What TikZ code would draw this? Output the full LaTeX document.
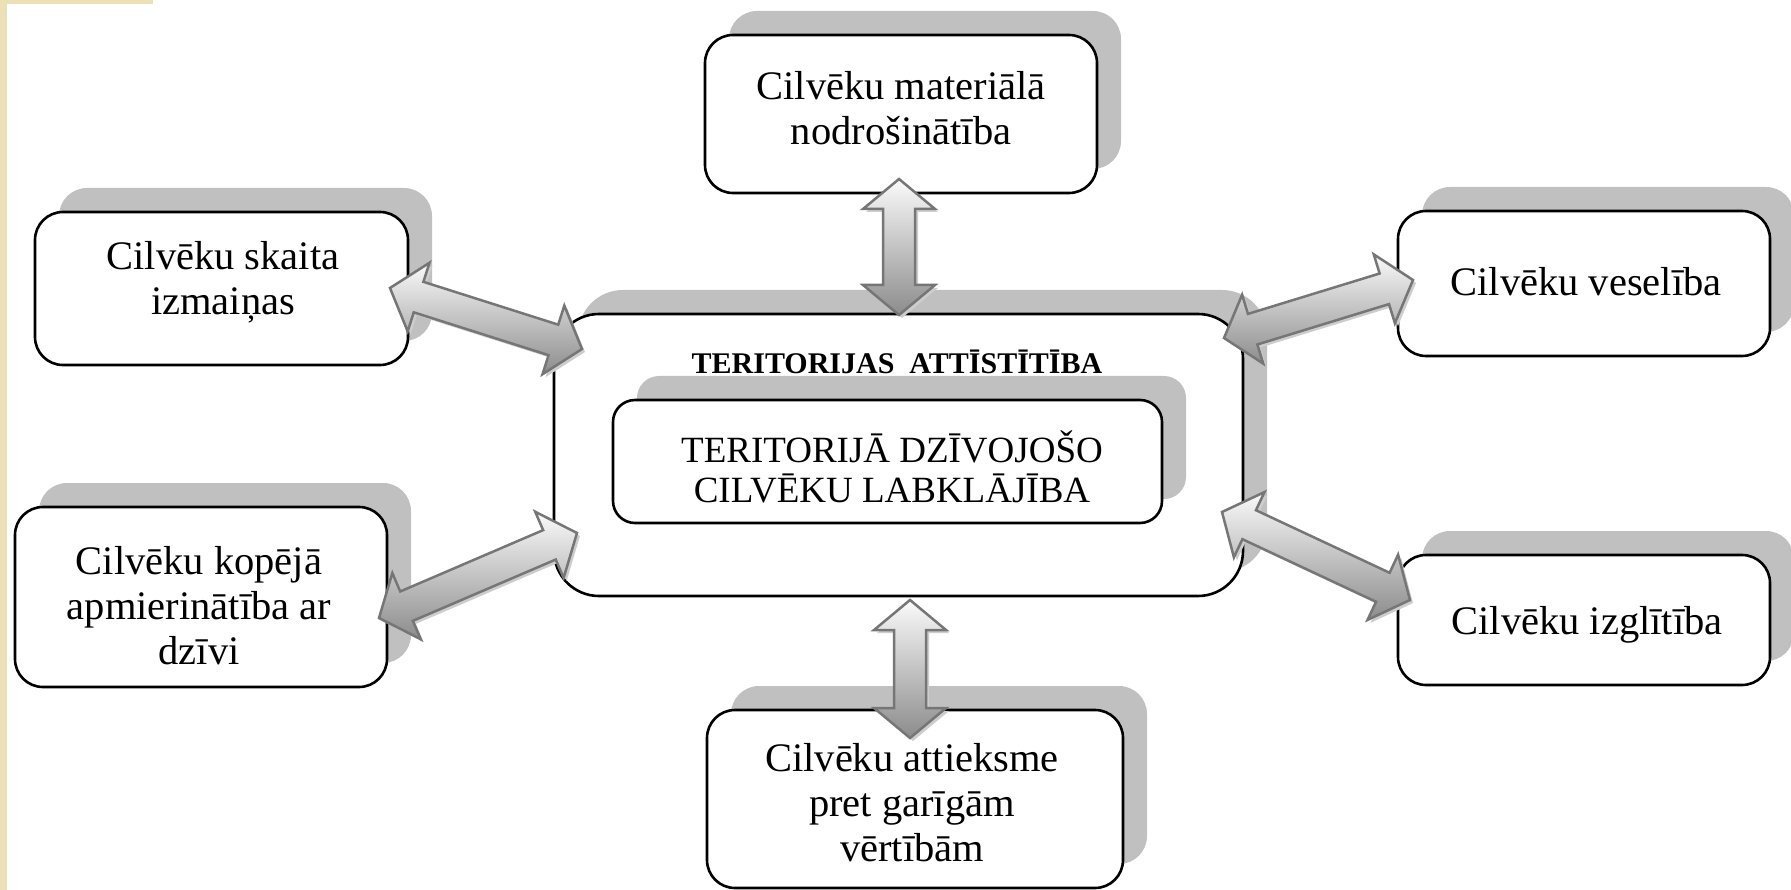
\documentclass[tikz,border=0pt]{standalone}
\usepackage{fontspec}
\setmainfont{Liberation Serif}
\usetikzlibrary{calc}
\definecolor{beige}{RGB}{238,224,182}
\definecolor{shadowgray}{RGB}{192,192,192}
\definecolor{arrowedge}{RGB}{118,118,118}
\definecolor{arrowlight}{RGB}{250,250,250}
\definecolor{arrowdark}{RGB}{140,140,140}
\definecolor{arrowshadow}{RGB}{205,205,205}
\tikzset{
  boxshape/.style={draw=black, line width=2.6pt, fill=white, rounded corners=28pt, inner sep=0pt},
  boxshadow/.style={fill=shadowgray, draw=none, rounded corners=28pt, inner sep=0pt},
  bigshape/.style={draw=black, line width=2.6pt, fill=white, rounded corners=45pt, inner sep=0pt},
  bigshadow/.style={fill=shadowgray, draw=none, rounded corners=45pt, inner sep=0pt},
  boxtext/.style={align=center, font=\fontsize{40.5}{45}\selectfont, inner sep=0pt},
  innertext/.style={align=center, font=\fontsize{37}{40}\selectfont, inner sep=0pt},
  titletext/.style={font=\fontsize{30}{34}\selectfont\bfseries, inner sep=0pt},
  arrowbody/.style={draw=arrowedge, line width=2.5pt, line join=miter, top color=arrowlight, bottom color=arrowdark},
  arrowshade/.style={fill=arrowshadow, draw=none, transform canvas={shift={(3pt,-3pt)}}}
}
\newcommand\arrowpath[2]{(#1) -- ($(#1)!30pt!(#2)!36pt!90:(#2)$) -- ($(#1)!30pt!(#2)!16pt!90:(#2)$) -- ($(#2)!30pt!(#1)!16pt!-90:(#1)$) -- ($(#2)!30pt!(#1)!36pt!-90:(#1)$) -- (#2) -- ($(#2)!30pt!(#1)!36pt!90:(#1)$) -- ($(#2)!30pt!(#1)!16pt!90:(#1)$) -- ($(#1)!30pt!(#2)!16pt!-90:(#2)$) -- ($(#1)!30pt!(#2)!36pt!-90:(#2)$) -- cycle}
\newcommand\dblarrow[2]{%
  \path[arrowshade] \arrowpath{#1}{#2};
  \path[arrowbody] \arrowpath{#1}{#2};
}
% name, cx, cy, w, h
\newcommand\shadowedbox[5]{%
  \node[boxshadow, minimum width=#4pt, minimum height=#5pt] (#1s) at (#2+24,#3-24) {};
  \node[boxshape, minimum width=#4pt, minimum height=#5pt] (#1) at (#2,#3) {};
}
\begin{document}
\begin{tikzpicture}[x=1pt,y=-1pt]
\useasboundingbox (0,0) rectangle (1791,890);
\fill[white] (0,0) rectangle (1791,890);
\fill[beige] (0,0) rectangle (7,890);
\fill[beige] (0,0) rectangle (153,4);

% outer boxes
\shadowedbox{top}{901}{114}{392}{158}
\shadowedbox{lt}{221.5}{288.5}{373}{153}
\shadowedbox{lb}{201}{597}{372}{180}
\shadowedbox{bot}{915}{799}{416}{178}
\shadowedbox{rt}{1584}{283.5}{372}{145}
\shadowedbox{rb}{1584}{620}{372}{130}

% central box
\node[bigshadow, minimum width=689pt, minimum height=282pt] (cs) at (922.5,431) {};
\node[bigshape, minimum width=689pt, minimum height=282pt] (c) at (898.5,455) {};
\node[titletext] (title) at (897,362) {TERITORIJAS\ \ ATTĪSTĪTĪBA};
\node[boxshadow, rounded corners=22pt, minimum width=549pt, minimum height=123pt] (is) at (911.5,437.5) {};
\node[boxshape, rounded corners=22pt, minimum width=549pt, minimum height=123pt] (in) at (887.5,461.5) {};
\node[innertext] (intext) at (892,467) {TERITORIJĀ DZĪVOJOŠO\\CILVĒKU LABKLĀJĪBA};

% texts
\node[boxtext] (toptext) at (901,108) {Cilvēku materiālā\\nodrošinātība};
\node[boxtext] (lttext) at (223,282) {Cilvēku skaita\\izmaiņas};
\node[boxtext] (lbtext) at (199,606) {Cilvēku kopējā\\apmierinātība ar\\dzīvi};
\node[boxtext] (bottext) at (912,803) {Cilvēku attieksme\\pret garīgām\\vērtībām};
\node[boxtext] (rttext) at (1586,282) {Cilvēku veselība};
\node[boxtext] (rbtext) at (1587,625) {Cilvēku izglītība};

% arrow end points
\coordinate (a1) at (899,179);  \coordinate (a2) at (899,315);
\coordinate (b1) at (910,600);  \coordinate (b2) at (910,738);
\coordinate (c1) at (390,288);  \coordinate (c2) at (582,349);
\coordinate (d1) at (379,618);  \coordinate (d2) at (577,533);
\coordinate (e1) at (1224,338); \coordinate (e2) at (1413,280);
\coordinate (f1) at (1222,512); \coordinate (f2) at (1410,600);

\dblarrow{a1}{a2}
\dblarrow{b1}{b2}
\dblarrow{c1}{c2}
\dblarrow{d1}{d2}
\dblarrow{e1}{e2}
\dblarrow{f1}{f2}
\end{tikzpicture}
\end{document}
